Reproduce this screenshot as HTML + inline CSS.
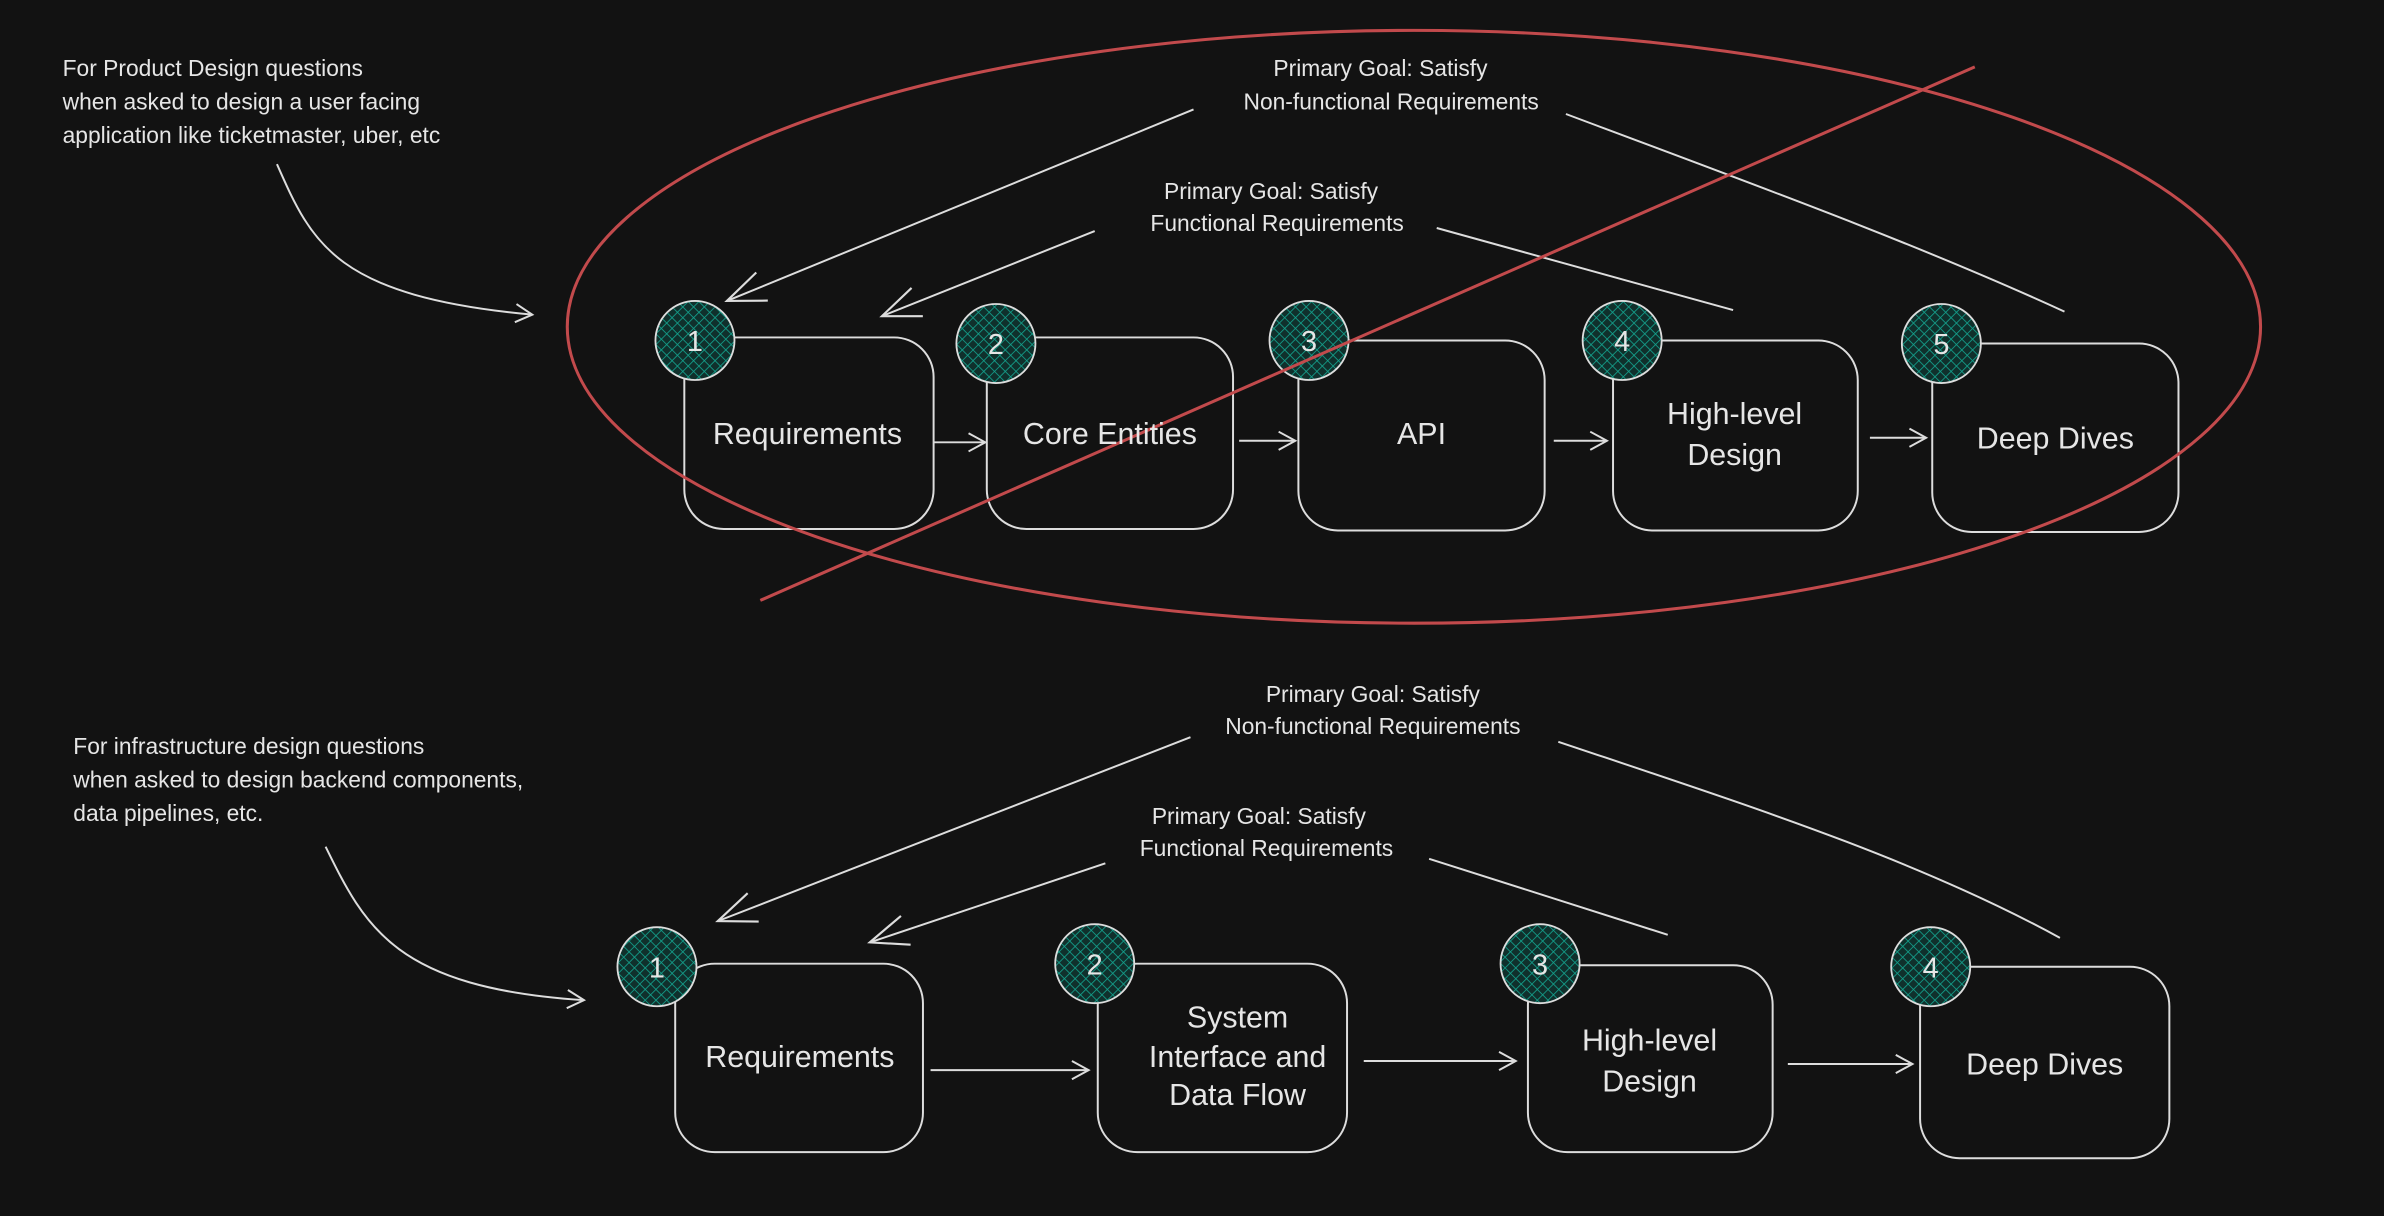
<!DOCTYPE html>
<html><head><meta charset="utf-8"><style>
html,body{margin:0;padding:0;background:#121212;}
svg{display:block}
text{font-family:"Liberation Sans",sans-serif;fill:#e6e6e6}
</style></head><body>
<svg width="2384" height="1216" viewBox="0 0 1568 800" xmlns="http://www.w3.org/2000/svg">
<defs>
<pattern id="h" width="5" height="5" patternUnits="userSpaceOnUse" patternTransform="rotate(45)">
<rect width="5" height="5" fill="#10302c"/>
<path d="M0 0V5M0 0H5" stroke="#14a08c" stroke-width="1.1"/>
</pattern>
<marker id="a" markerWidth="14" markerHeight="14" refX="12" refY="7" orient="auto" markerUnits="userSpaceOnUse">
<path d="M1 1L12 7L1 13" fill="none" stroke="#ddd" stroke-width="1.3"/>
</marker>
<marker id="b" markerWidth="30" markerHeight="24" refX="27" refY="12" orient="auto" markerUnits="userSpaceOnUse">
<path d="M2 2L27 12L2 22" fill="none" stroke="#ddd" stroke-width="1.4"/>
</marker>
</defs>
<rect width="1568" height="800" fill="#121212"/>

<g fill="none" stroke="#ddd" stroke-width="1.3">
<rect x="450" y="222" width="164" height="126" rx="26"/>
<rect x="649" y="222" width="162" height="126" rx="26"/>
<rect x="854" y="224" width="162" height="125" rx="26"/>
<rect x="1061" y="224" width="161" height="125" rx="26"/>
<rect x="1271" y="226" width="162" height="124" rx="26"/>
<rect x="444" y="634" width="163" height="124" rx="26"/>
<rect x="722" y="634" width="164" height="124" rx="26"/>
<rect x="1005" y="635" width="161" height="123" rx="26"/>
<rect x="1263" y="636" width="164" height="126" rx="26"/>
</g>

<g fill="url(#h)" stroke="#ddd" stroke-width="1.2">
<circle cx="457" cy="224" r="26"/>
<circle cx="655" cy="226" r="26"/>
<circle cx="861" cy="224" r="26"/>
<circle cx="1067" cy="224" r="26"/>
<circle cx="1277" cy="226" r="26"/>
<circle cx="432" cy="636" r="26"/>
<circle cx="720" cy="634" r="26"/>
<circle cx="1013" cy="634" r="26"/>
<circle cx="1270" cy="636" r="26"/>
</g>
<g font-size="19" text-anchor="middle">
<text x="457" y="231">1</text><text x="655" y="233">2</text><text x="861" y="231">3</text><text x="1067" y="231">4</text><text x="1277" y="233">5</text>
<text x="432" y="643">1</text><text x="720" y="641">2</text><text x="1013" y="641">3</text><text x="1270" y="643">4</text>
</g>

<g fill="none" stroke="#ddd" stroke-width="1.3" marker-end="url(#a)">
<path d="M614 291H648"/><path d="M815 290H852"/><path d="M1022 290H1057"/><path d="M1230 288H1267"/>
<path d="M612 704H716"/><path d="M897 698H997"/><path d="M1176 700H1258"/>
<path d="M182 108C205 160 220 195 350 207"/>
<path d="M214 557C240 610 260 650 384 658"/>
</g>
<g fill="none" stroke="#ddd" stroke-width="1.3">
<path d="M785 72L478 198" marker-end="url(#b)"/>
<path d="M720 152L580 208" marker-end="url(#b)"/>
<path d="M1030 75C1150 120 1260 160 1358 205"/>
<path d="M945 150L1140 204"/>
<path d="M783 485L472 606" marker-end="url(#b)"/>
<path d="M727 568L572 620" marker-end="url(#b)"/>
<path d="M1025 488C1150 530 1260 565 1355 617"/>
<path d="M940 565L1097 615"/>
</g>

<ellipse cx="930" cy="215" rx="557" ry="195" fill="none" stroke="#c24a4c" stroke-width="2"/>
<line x1="500" y1="395" x2="1299" y2="44" stroke="#c24a4c" stroke-width="2"/>

<g font-size="20" text-anchor="middle">
<text x="531" y="292">Requirements</text>
<text x="730" y="292">Core Entities</text>
<text x="935" y="292">API</text>
<text x="1141" y="279">High-level</text><text x="1141" y="306">Design</text>
<text x="1352" y="295">Deep Dives</text>
<text x="526" y="702">Requirements</text>
<text x="814" y="676">System</text><text x="814" y="702">Interface and</text><text x="814" y="727">Data Flow</text>
<text x="1085" y="691">High-level</text><text x="1085" y="718">Design</text>
<text x="1345" y="707">Deep Dives</text>
</g>
<g font-size="15" text-anchor="middle">
<text x="908" y="50">Primary Goal: Satisfy</text><text x="915" y="72">Non-functional Requirements</text>
<text x="836" y="131">Primary Goal: Satisfy</text><text x="840" y="152">Functional Requirements</text>
<text x="903" y="462">Primary Goal: Satisfy</text><text x="903" y="483">Non-functional Requirements</text>
<text x="828" y="542">Primary Goal: Satisfy</text><text x="833" y="563">Functional Requirements</text>
</g>
<g font-size="15">
<text x="41" y="50">For Product Design questions</text>
<text x="41" y="72">when asked to design a user facing</text>
<text x="41" y="94">application like ticketmaster, uber, etc</text>
<text x="48" y="496">For infrastructure design questions</text>
<text x="48" y="518">when asked to design backend components,</text>
<text x="48" y="540">data pipelines, etc.</text>
</g>
</svg>
</body></html>
